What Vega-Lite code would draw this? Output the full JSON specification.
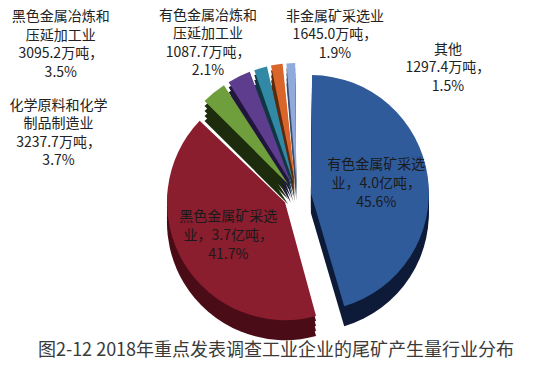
{
  "$schema": "https://vega.github.io/schema/vega-lite/v6.json",
  "autosize": "none",
  "width": 506,
  "height": 290,
  "padding": {"left": 44, "top": 50, "right": 0, "bottom": 36},
  "background": "white",
  "config": {"view": {"stroke": null}},
  "title": {"text": "图2-12 2018年重点发表调查工业企业的尾矿产生量行业分布", "orient": "bottom", "anchor": "middle", "dx": -21, "offset": 2, "font": "Noto Sans CJK SC", "fontSize": 18, "fontWeight": "normal", "color": "#3a3a3a"},
  "data": {"values": [
    {"name": "有色金属矿采选业", "pct": 45.6, "order": 1, "inner": "有色金属矿采选\n业，4.0亿吨，\n45.6%", "outer": ""},
    {"name": "黑色金属矿采选业", "pct": 41.7, "order": 2, "inner": "黑色金属矿采选\n业，3.7亿吨，\n41.7%", "outer": ""},
    {"name": "化学原料和化学制品制造业", "pct": 3.7, "order": 3, "inner": "", "outer": "化学原料和化学\n制品制造业\n3237.7万吨，\n3.7%"},
    {"name": "黑色金属冶炼和压延加工业", "pct": 3.5, "order": 4, "inner": "", "outer": "黑色金属冶炼和\n压延加工业\n3095.2万吨，\n3.5%"},
    {"name": "有色金属冶炼和压延加工业", "pct": 2.1, "order": 5, "inner": "", "outer": "有色金属冶炼和\n压延加工业\n1087.7万吨，\n2.1%"},
    {"name": "非金属矿采选业", "pct": 1.9, "order": 6, "inner": "", "outer": "非金属矿采选业\n1645.0万吨，\n1.9%"},
    {"name": "其他", "pct": 1.5, "order": 7, "inner": "", "outer": "其他\n1297.4万吨，\n1.5%"}
  ]},
  "transform": [{"stack": "pct", "groupby": [], "sort": [{"field": "order", "order": "ascending"}], "as": ["s0", "s1"]}],
  "layer": [
    {"mark": {"type": "arc", "radius": 118, "padAngle": 0.02, "xOffset": {"expr": "14*sin(PI*(datum.s0+datum.s1)/100)"}, "yOffset": {"expr": "20-14*cos(PI*(datum.s0+datum.s1)/100)"}},
     "encoding": {"theta": {"field": "s0", "type": "quantitative", "scale": {"domain": [0, 100]}}, "theta2": {"field": "s1"},
       "fill": {"field": "name", "type": "nominal", "legend": null, "scale": {"domain": ["有色金属矿采选业", "黑色金属矿采选业", "化学原料和化学制品制造业", "黑色金属冶炼和压延加工业", "有色金属冶炼和压延加工业", "非金属矿采选业", "其他"], "range": ["#0d1a38", "#4a0c17", "#1d2c0d", "#22163f", "#113642", "#5a290e", "#3b4c6e"]}}}},
    {"mark": {"type": "arc", "radius": 118, "padAngle": 0.02, "xOffset": {"expr": "14*sin(PI*(datum.s0+datum.s1)/100)"}, "yOffset": {"expr": "15-14*cos(PI*(datum.s0+datum.s1)/100)"}},
     "encoding": {"theta": {"field": "s0", "type": "quantitative", "scale": {"domain": [0, 100]}}, "theta2": {"field": "s1"},
       "fill": {"field": "name", "type": "nominal", "legend": null}}},
    {"mark": {"type": "arc", "radius": 118, "padAngle": 0.02, "xOffset": {"expr": "14*sin(PI*(datum.s0+datum.s1)/100)"}, "yOffset": {"expr": "10-14*cos(PI*(datum.s0+datum.s1)/100)"}},
     "encoding": {"theta": {"field": "s0", "type": "quantitative", "scale": {"domain": [0, 100]}}, "theta2": {"field": "s1"},
       "fill": {"field": "name", "type": "nominal", "legend": null}}},
    {"mark": {"type": "arc", "radius": 118, "padAngle": 0.02, "xOffset": {"expr": "14*sin(PI*(datum.s0+datum.s1)/100)"}, "yOffset": {"expr": "5-14*cos(PI*(datum.s0+datum.s1)/100)"}},
     "encoding": {"theta": {"field": "s0", "type": "quantitative", "scale": {"domain": [0, 100]}}, "theta2": {"field": "s1"},
       "fill": {"field": "name", "type": "nominal", "legend": null}}},
    {"mark": {"type": "arc", "radius": 118, "padAngle": 0.02, "xOffset": {"expr": "14*sin(PI*(datum.s0+datum.s1)/100)"}, "yOffset": {"expr": "-14*cos(PI*(datum.s0+datum.s1)/100)"}},
     "encoding": {"theta": {"field": "s0", "type": "quantitative", "scale": {"domain": [0, 100]}}, "theta2": {"field": "s1"},
       "color": {"field": "name", "type": "nominal", "legend": null, "scale": {"domain": ["有色金属矿采选业", "黑色金属矿采选业", "化学原料和化学制品制造业", "黑色金属冶炼和压延加工业", "有色金属冶炼和压延加工业", "非金属矿采选业", "其他"], "range": ["#2f5b9a", "#8a1d2e", "#6f9e3c", "#5e3d8f", "#3189a5", "#d9652a", "#8faadb"]}}}},
    {"mark": {"type": "text", "radius": 66, "dy": -19, "font": "Noto Sans CJK SC", "fontSize": 14, "lineBreak": "\n", "lineHeight": 19, "color": "#1a1a1a", "xOffset": {"expr": "14*sin(PI*(datum.s0+datum.s1)/100)"}, "yOffset": {"expr": "-14*cos(PI*(datum.s0+datum.s1)/100)"}},
     "encoding": {"theta": {"field": "pct", "type": "quantitative", "stack": true}, "order": {"field": "order", "type": "quantitative"}, "text": {"field": "inner"}}},
    {"transform": [{"filter": "datum.order == 3"}],
     "mark": {"type": "text", "radius": 118, "dx": -154, "dy": -7, "font": "Noto Sans CJK SC", "fontSize": 14, "lineBreak": "\n", "lineHeight": 18.5, "color": "#222222"},
     "encoding": {"theta": {"field": "s0", "type": "quantitative"}, "text": {"field": "outer"}}},
    {"transform": [{"filter": "datum.order == 4"}],
     "mark": {"type": "text", "radius": 118, "dx": -173, "dy": -78, "font": "Noto Sans CJK SC", "fontSize": 14, "lineBreak": "\n", "lineHeight": 18.5, "color": "#222222"},
     "encoding": {"theta": {"field": "s0", "type": "quantitative"}, "text": {"field": "outer"}}},
    {"transform": [{"filter": "datum.order == 5"}],
     "mark": {"type": "text", "radius": 118, "dx": -49, "dy": -68, "font": "Noto Sans CJK SC", "fontSize": 14, "lineBreak": "\n", "lineHeight": 18.5, "color": "#222222"},
     "encoding": {"theta": {"field": "s0", "type": "quantitative"}, "text": {"field": "outer"}}},
    {"transform": [{"filter": "datum.order == 6"}],
     "mark": {"type": "text", "radius": 118, "dx": 63, "dy": -63, "font": "Noto Sans CJK SC", "fontSize": 14, "lineBreak": "\n", "lineHeight": 18.5, "color": "#222222"},
     "encoding": {"theta": {"field": "s0", "type": "quantitative"}, "text": {"field": "outer"}}},
    {"transform": [{"filter": "datum.order == 7"}],
     "mark": {"type": "text", "radius": 118, "dx": 162, "dy": -28, "font": "Noto Sans CJK SC", "fontSize": 14, "lineBreak": "\n", "lineHeight": 18.5, "color": "#222222"},
     "encoding": {"theta": {"field": "s0", "type": "quantitative"}, "text": {"field": "outer"}}}
  ]
}
